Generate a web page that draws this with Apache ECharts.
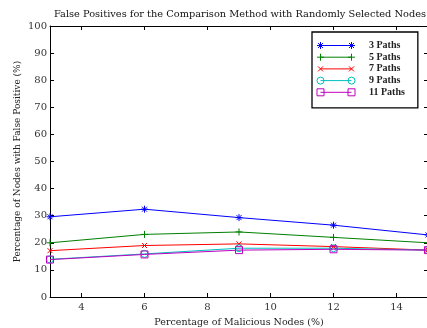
<!DOCTYPE html>
<html>
<head>
<meta charset="utf-8">
<script src="https://cdn.jsdelivr.net/npm/echarts@6/dist/echarts.min.js"></script>
<style>
  html, body { margin: 0; padding: 0; background: #fff; }
  #chart { width: 427px; height: 328px; }
</style>
</head>
<body>
<div id="chart"></div>
<script>
// data
const nodesPct = [3, 6, 9, 12, 15];
const paths3 = [29.6, 32.4, 29.3, 26.5, 22.9];
const paths5 = [20.0, 23.1, 24.0, 22.0, 20.0];
const paths7 = [17.1, 19.0, 19.6, 18.6, 17.3];
const paths9 = [13.9, 15.9, 18.0, 18.0, 17.3];
const paths11 = [13.8, 15.7, 17.3, 17.6, 17.3];
const seriesNames = ['3 Paths', '5 Paths', '7 Paths', '9 Paths', '11 Paths'];
const colors = ['#0000ff', '#008000', '#ff0000', '#00bfbf', '#bf00bf'];

const FONT = '"DejaVu Serif", "Liberation Serif", serif';
const LEGEND_FONT = '"Liberation Serif", serif';

// marker outlines, centred on (cx, cy)
const markers = {
  star: (cx, cy) => `M${cx-3.5},${cy}L${cx+3.5},${cy}M${cx},${cy-3.5}L${cx},${cy+3.5}` +
    `M${cx-2.5},${cy-2.5}L${cx+2.5},${cy+2.5}M${cx+2.5},${cy-2.5}L${cx-2.5},${cy+2.5}`,
  plus: (cx, cy) => `M${cx-3.5},${cy}L${cx+3.5},${cy}M${cx},${cy-3.5}L${cx},${cy+3.5}`,
  cross: (cx, cy) => `M${cx-2.5},${cy-2.5}L${cx+2.5},${cy+2.5}M${cx+2.5},${cy-2.5}L${cx-2.5},${cy+2.5}`,
  circle: (cx, cy) => `M${cx+3.5},${cy}A3.5,3.5,0,1,1,${cx-3.5},${cy}A3.5,3.5,0,1,1,${cx+3.5},${cy}Z`,
  square: (cx, cy) => `M${cx-3.5},${cy-3.5}L${cx+3.5},${cy-3.5}L${cx+3.5},${cy+3.5}L${cx-3.5},${cy+3.5}Z`
};
const markerKeys = ['star', 'plus', 'cross', 'circle', 'square'];
const markerSizes = [7, 7, 5, 7, 7];

function symbolPath(key) {
  if (key === 'cross') return 'path://' + markers.cross(2.5, 2.5);
  return 'path://' + markers[key](3.5, 3.5);
}
function legendIcon(key) {
  // line with a marker at each end, plus invisible corner points to fix the box
  return 'path://M0,3.5L31,3.5' + markers[key](0, 3.5) + markers[key](31, 3.5) +
    'M-3.5,0L-3.5,0M34.5,7L34.5,7';
}

const allSeries = [paths3, paths5, paths7, paths9, paths11].map((vals, i) => ({
  name: seriesNames[i],
  type: 'line',
  data: nodesPct.map((x, j) => [x, vals[j]]),
  symbol: symbolPath(markerKeys[i]),
  symbolSize: markerSizes[i],
  showAllSymbol: true,
  clip: false,
  lineStyle: { color: colors[i], width: 1 },
  itemStyle: { color: 'none', borderColor: colors[i], borderWidth: 1 },
  emphasis: { disabled: true }
}));

const chart = echarts.init(document.getElementById('chart'), null, { renderer: 'canvas' });
chart.setOption({
  animation: false,
  backgroundColor: '#fff',
  title: {
    text: 'False Positives for the Comparison Method with Randomly Selected Nodes',
    left: 235,
    textAlign: 'center',
    top: 4,
    textStyle: { fontFamily: FONT, fontSize: 9.8, fontWeight: 'normal', color: '#111' }
  },
  legend: {
    orient: 'vertical',
    left: 312,
    top: 32,
    padding: [7.5, 13, 9.5, 2.5],
    itemWidth: 38,
    itemHeight: 7,
    itemGap: -0.3,
    borderColor: '#000',
    borderWidth: 1.3,
    backgroundColor: '#fff',
    selectedMode: false,
    data: seriesNames.map((n, i) => ({
      name: n,
      icon: legendIcon(markerKeys[i]),
      itemStyle: { color: 'none', borderColor: colors[i], borderWidth: 1 }
    })),
    textStyle: {
      fontFamily: LEGEND_FONT, fontSize: 10, fontWeight: 'bold', color: '#222',
      lineHeight: 10, padding: [0, 0, 0, 9]
    }
  },
  grid: { left: 50, right: -1, top: 26, bottom: 31, containLabel: false, outerBoundsMode: 'none' },
  xAxis: [{
    type: 'value',
    min: 3,
    max: 15,
    name: 'Percentage of Malicious Nodes (%)',
    nameLocation: 'middle',
    nameGap: 21,
    nameMoveOverlap: false,
    nameTextStyle: { fontFamily: FONT, fontSize: 9.5, color: '#222' },
    axisLine: { onZero: false, lineStyle: { color: '#000', width: 1 } },
    axisTick: { inside: true, length: 4, lineStyle: { color: '#000' } },
    axisLabel: { fontFamily: FONT, fontSize: 10, color: '#333', margin: 5, showMinLabel: false, showMaxLabel: false },
    splitLine: { show: false }
  }, {
    type: 'value',
    position: 'top',
    min: 3,
    max: 15,
    axisLine: { onZero: false, lineStyle: { color: '#000', width: 1 } },
    axisTick: { inside: true, length: 4, lineStyle: { color: '#000' } },
    axisLabel: { show: false },
    splitLine: { show: false }
  }],
  yAxis: [{
    type: 'value',
    min: 0,
    max: 100,
    interval: 10,
    name: 'Percentage of Nodes with False Positive (%)',
    nameLocation: 'middle',
    nameGap: 28,
    nameMoveOverlap: false,
    nameTextStyle: { fontFamily: FONT, fontSize: 9, color: '#222' },
    axisLine: { show: true, onZero: false, lineStyle: { color: '#000', width: 1 } },
    axisTick: { inside: true, length: 4, lineStyle: { color: '#000' } },
    axisLabel: { fontFamily: FONT, fontSize: 10, color: '#333', margin: 3 },
    splitLine: { show: false }
  }, {
    type: 'value',
    position: 'right',
    min: 0,
    max: 100,
    interval: 10,
    axisLine: { show: true, onZero: false, lineStyle: { color: '#000', width: 1 } },
    axisTick: { inside: true, length: 4, lineStyle: { color: '#000' } },
    axisLabel: { show: false },
    splitLine: { show: false }
  }],
  series: allSeries
});
</script>
</body>
</html>
